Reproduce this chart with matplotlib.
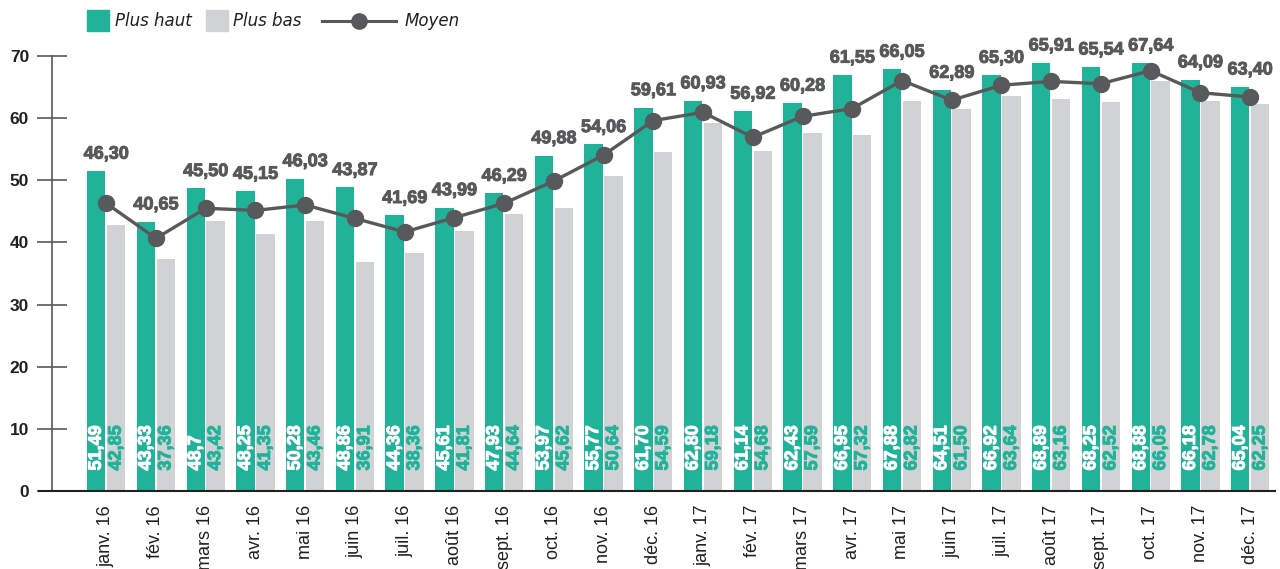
import numpy as np
import matplotlib.pyplot as plt
import matplotlib.patheffects as pe
from matplotlib.patches import Rectangle
from matplotlib.lines import Line2D

months = ["janv. 16", "fév. 16", "mars 16", "avr. 16", "mai 16", "juin 16",
          "juil. 16", "août 16", "sept. 16", "oct. 16", "nov. 16", "déc. 16",
          "janv. 17", "fév. 17", "mars 17", "avr. 17", "mai 17", "juin 17",
          "juil. 17", "août 17", "sept. 17", "oct. 17", "nov. 17", "déc. 17"]
high_txt = ["51,49", "43,33", "48,7", "48,25", "50,28", "48,86", "44,36", "45,61",
            "47,93", "53,97", "55,77", "61,70", "62,80", "61,14", "62,43", "66,95",
            "67,88", "64,51", "66,92", "68,89", "68,25", "68,88", "66,18", "65,04"]
low_txt = ["42,85", "37,36", "43,42", "41,35", "43,46", "36,91", "38,36", "41,81",
           "44,64", "45,62", "50,64", "54,59", "59,18", "54,68", "57,59", "57,32",
           "62,82", "61,50", "63,64", "63,16", "62,52", "66,05", "62,78", "62,25"]
avg_txt = ["46,30", "40,65", "45,50", "45,15", "46,03", "43,87", "41,69", "43,99",
           "46,29", "49,88", "54,06", "59,61", "60,93", "56,92", "60,28", "61,55",
           "66,05", "62,89", "65,30", "65,91", "65,54", "67,64", "64,09", "63,40"]
yticks = [0, 10, 20, 30, 40, 50, 60, 70]

to_num = lambda lst: np.array([float(s.replace(",", ".")) for s in lst])
high, low, avg = to_num(high_txt), to_num(low_txt), to_num(avg_txt)

GREEN = "#20b39a"
GREY = "#d1d2d4"
DARK = "#58595b"
TXT = "#231f20"
NUMFONT = ["Liberation Sans", "DejaVu Sans"]


def heavy(color):
    # thicken the glyphs a little, the original uses a heavier face
    return [pe.withStroke(linewidth=0.7, foreground=color)]


fig = plt.figure(figsize=(12.8, 5.69), dpi=100)
ax = fig.add_axes([52 / 1280, 1 - 491 / 569, 1223 / 1280, 435 / 569])

x = np.arange(len(months))
w = 0.37
ax.bar(x - 0.2, high, w, color=GREEN, zorder=2)
ax.bar(x + 0.2, low, w, color=GREY, zorder=2)
ax.plot(x, avg, color=DARK, lw=2.4, marker="o", ms=11.5, zorder=3)

lab_font = dict(fontsize=13, fontweight="bold", rotation=90, family=NUMFONT,
                ha="center", va="bottom", zorder=4)
for i in range(len(x)):
    ax.text(x[i] - 0.2, 3.3, high_txt[i], color="white",
            path_effects=heavy("white"), **lab_font)
    ax.text(x[i] + 0.2, 3.3, low_txt[i], color=GREEN,
            path_effects=heavy(GREEN), **lab_font)
    ax.annotate(avg_txt[i], (x[i], high[i]), xytext=(0, 6),
                textcoords="offset points", ha="center", va="bottom",
                fontsize=13, fontweight="bold", color=DARK, family=NUMFONT,
                path_effects=heavy(DARK), annotation_clip=False)

ax.set_xlim(-1.09, 23.5)
ax.set_ylim(0, 70)
ax.set_yticks(yticks)
ax.set_xticks(x)
ax.set_xticklabels(months, rotation=90, fontsize=13, color=TXT,
                   family="Liberation Sans")
ax.tick_params(axis="x", length=0, pad=10)
ax.tick_params(axis="y", direction="inout", length=21, width=1.2,
               color=DARK, labelsize=12.5, labelcolor=TXT, pad=6)
for t in ax.get_yticklabels():
    t.set_fontweight("bold")
    t.set_family(NUMFONT)
for s in ["top", "right", "bottom"]:
    ax.spines[s].set_visible(False)
ax.spines["left"].set_color(DARK)
ax.spines["left"].set_linewidth(1.2)
ax.axhline(0, xmin=-0.011, xmax=1, color=TXT, lw=1.5, clip_on=False, zorder=5)

# legend drawn in figure pixels
px = lambda v, h: (v / 1280, 1 - h / 569)
fig.add_artist(Rectangle(px(87, 31), 22 / 1280, 21 / 569, color=GREEN))
fig.text(*px(115, 21), "Plus haut", style="italic", fontsize=12, color=TXT, va="center")
fig.add_artist(Rectangle(px(206, 31), 22 / 1280, 21 / 569, color=GREY))
fig.text(*px(233, 21), "Plus bas", style="italic", fontsize=12, color=TXT, va="center")
fig.add_artist(Line2D([322 / 1280, 396 / 1280], [1 - 21 / 569] * 2, color=DARK,
                      lw=2.2))
fig.add_artist(Line2D([359 / 1280], [1 - 21 / 569], color=DARK, marker="o", ms=11))
fig.text(*px(405, 21), "Moyen", style="italic", fontsize=12, color=TXT, va="center")

fig.savefig("out.png", dpi=100)
